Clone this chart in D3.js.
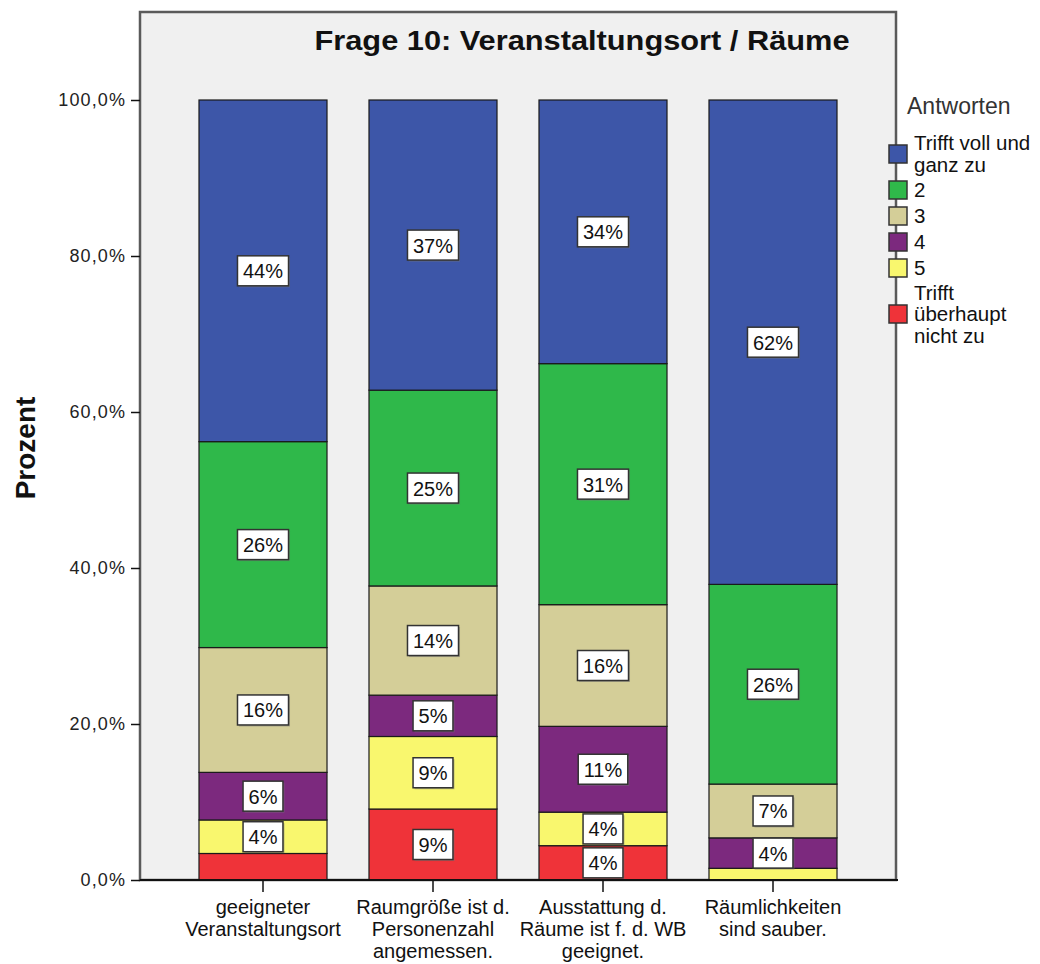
<!DOCTYPE html>
<html><head><meta charset="utf-8">
<script src="https://cdn.jsdelivr.net/npm/d3@7"></script>
<style>body{margin:0;background:#fff}</style>
</head><body>
<svg id="c" width="1040" height="964"></svg>
<script>
// ---- data ----
const categories = [
  ["geeigneter", "Veranstaltungsort"],
  ["Raumgröße ist d.", "Personenzahl", "angemessen."],
  ["Ausstattung d.", "Räume ist f. d. WB", "geeignet."],
  ["Räumlichkeiten", "sind sauber."]
];
// stacked bottom -> top
const seriesKeys = ["r", "5", "4", "3", "2", "v"];
const seriesNames = ["Trifft überhaupt nicht zu", "5", "4", "3", "2", "Trifft voll und ganz zu"];
const red    = [3.4, 9.1, 4.4, 0];
const yellow = [4.3, 9.3, 4.3, 1.5];
const purple = [6.1, 5.3, 11.0, 3.9];
const beige  = [16.0, 14.0, 15.6, 6.9];
const green  = [26.4, 25.1, 30.9, 25.6];
const blue   = [43.8, 37.2, 33.8, 62.1];
const yTicks = [0, 20, 40, 60, 80, 100];
const legendLabels = [["Trifft voll und", "ganz zu"], ["2"], ["3"], ["4"], ["5"], ["Trifft", "überhaupt", "nicht zu"]];
const colors = ["#ef3339", "#f9f76e", "#7c297e", "#d4ce98", "#2fb84a", "#3d56a8"];

const rows = categories.map((c, i) => ({
  idx: i, r: red[i], "5": yellow[i], "4": purple[i], "3": beige[i], "2": green[i], v: blue[i]
}));

const svg = d3.select("#c");
const F = "'Liberation Sans', Arial, sans-serif";

const x = d3.scaleBand().domain(d3.range(categories.length)).range([178, 858]).paddingInner(0.247).paddingOuter(0.1235);
const y = d3.scaleLinear().domain([0, 100]).range([880, 100]);

// plot frame
svg.append("rect").attr("x", 140).attr("y", 12).attr("width", 756).attr("height", 868)
  .attr("fill", "#f0f0f0").attr("stroke", "#5a5a5a").attr("stroke-width", 2.5);

// bars
const stack = d3.stack().keys(seriesKeys)(rows);
const g = svg.append("g");
stack.forEach((layer, li) => {
  g.selectAll(null).data(layer.filter(d => d[1] - d[0] > 0)).join("rect")
    .attr("x", d => x(d.data.idx)).attr("width", x.bandwidth())
    .attr("y", d => y(d[1])).attr("height", d => y(d[0]) - y(d[1]))
    .attr("fill", colors[li]).attr("stroke", "#1a1a1a").attr("stroke-width", 1.2);
});

// labels
const lab = svg.append("g");
stack.forEach((layer, li) => {
  layer.forEach(d => {
    const v = d[1] - d[0];
    const t = Math.round(v);
    if (t < 4) return;
    const cx = x(d.data.idx) + x.bandwidth() / 2;
    const cy = (y(d[0]) + y(d[1])) / 2;
    const gg = lab.append("g");
    const txt = gg.append("text").attr("x", cx).attr("y", cy + 7.5).attr("text-anchor", "middle")
      .attr("font-family", F).attr("font-size", 20).attr("fill", "#111").text(t + "%");
    const w = txt.node().getComputedTextLength() + 11;
    gg.insert("rect", "text").attr("x", cx - w / 2 + 1.5).attr("y", cy - 15 + 1.5).attr("width", w).attr("height", 30)
      .attr("fill", "#777").attr("opacity", 0.5);
    gg.insert("rect", "text").attr("x", cx - w / 2).attr("y", cy - 15).attr("width", w).attr("height", 30)
      .attr("fill", "#fff").attr("stroke", "#333").attr("stroke-width", 1.5);
  });
});

// y axis
const ya = svg.append("g").attr("transform", "translate(140,0)")
  .call(d3.axisLeft(y).tickValues(yTicks).tickSize(9).tickPadding(5).tickFormat(d => d3.format(".1f")(d).replace(".", ",") + "%"));
ya.select(".domain").remove();
ya.selectAll("line").attr("stroke", "#111").attr("stroke-width", 1.5);
ya.selectAll("text").attr("font-family", F).attr("font-size", 18).attr("fill", "#222").attr("letter-spacing", 1.1);

// x axis
const xa = svg.append("g").attr("transform", "translate(0,880)")
  .call(d3.axisBottom(x).tickSize(12).tickFormat(""));
xa.select(".domain").attr("d", "M140,0H898").attr("stroke", "#111").attr("stroke-width", 2);
xa.selectAll(".tick line").attr("stroke", "#111").attr("stroke-width", 1.5);
categories.forEach((lines, i) => {
  const t = svg.append("text").attr("text-anchor", "middle").attr("font-family", F).attr("font-size", 20).attr("fill", "#111");
  lines.forEach((l, k) => t.append("tspan").attr("x", x(i) + x.bandwidth() / 2).attr("y", 914 + k * 22).text(l));
});

// titles
svg.append("text").attr("x", 582).attr("y", 50).attr("text-anchor", "middle")
  .attr("font-family", F).attr("font-weight", "bold").attr("font-size", 28).attr("fill", "#111")
  .attr("textLength", 535).attr("lengthAdjust", "spacingAndGlyphs")
  .text("Frage 10: Veranstaltungsort / Räume");
svg.append("text").attr("transform", "translate(35,448) rotate(-90)").attr("text-anchor", "middle")
  .attr("font-family", F).attr("font-weight", "bold").attr("font-size", 28).attr("fill", "#111")
  .text("Prozent");

// legend
svg.append("text").attr("x", 907).attr("y", 114).attr("font-family", F).attr("font-size", 23).attr("fill", "#333").text("Antworten");
let y0 = 131;
const legOrder = d3.range(seriesKeys.length).reverse();
legOrder.forEach((si, k) => {
  const lines = legendLabels[k];
  const h = 20 * lines.length + 6;
  const cy = y0 + h / 2;
  svg.append("rect").attr("x", 889).attr("y", cy - 9).attr("width", 18).attr("height", 18)
    .attr("fill", colors[si]).attr("stroke", "#333").attr("stroke-width", 1.5);
  const t = svg.append("text").attr("font-family", F).attr("font-size", 20.5).attr("fill", "#111");
  const lh = 21.5;
  lines.forEach((l, j) => t.append("tspan").attr("x", 914).attr("y", cy + 7 + (j - (lines.length - 1) / 2) * lh).text(l));
  y0 += h;
});
</script>
</body></html>
